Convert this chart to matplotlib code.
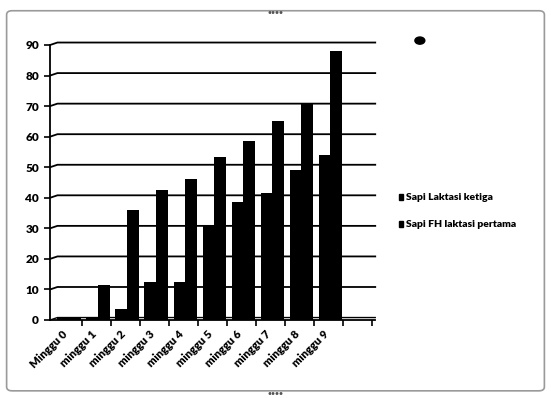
import matplotlib.pyplot as plt
import numpy as np
from matplotlib.patches import FancyBboxPatch, Circle

weeks = ["Minggu 0", "minggu 1", "minggu 2", "minggu 3", "minggu 4",
         "minggu 5", "minggu 6", "minggu 7", "minggu 8", "minggu 9"]
laktasi_ketiga = [1, 0.5, 3.5, 12.5, 12.5, 31, 38.5, 41.5, 49, 54]
fh_laktasi_pertama = [1, 11.5, 36, 42.5, 46, 53.5, 58.5, 65, 71, 88]
series_names = ["Sapi Laktasi ketiga", "Sapi FH laktasi pertama"]

plt.rcParams["font.family"] = ["Lato", "DejaVu Sans"]
plt.rcParams["font.weight"] = "bold"

fig = plt.figure(figsize=(5.51, 3.98), dpi=100)

# chart frame
frame = FancyBboxPatch((0.012, 0.018), 0.976, 0.955, boxstyle="round,pad=0,rounding_size=0.01",
                       transform=fig.transFigure, fill=False, ec="#9a9a9a", lw=1.2)
fig.patches.append(frame)
fig.text(0.5, 0.968, "\u2022\u2022\u2022\u2022", ha="center", va="center", fontsize=5, color="#555555")
fig.text(0.5, 0.012, "\u2022\u2022\u2022\u2022", ha="center", va="center", fontsize=5, color="#555555")
fig.patches.append(Circle((0.762, 0.898), 0.009, transform=fig.transFigure, color="black"))

ax = fig.add_axes([0.091, 0.196, 0.59, 0.691])
x = np.arange(len(weeks))
w = 0.4
ax.set_xlim(-0.6, 10.6)
ax.set_ylim(0, 90)

# gridlines with a small perspective kink at the wall
for yv in range(10, 100, 10):
    ax.plot([-0.6, -0.35, 10.6], [yv, yv + 0.8, yv + 0.8], color="black", lw=1.3,
            zorder=1, clip_on=False)
ax.plot([-0.6, -0.35, 10.6], [0, 0.8, 0.8], color="black", lw=1.0, zorder=1, clip_on=False)

ax.bar(x - w / 2 + 0.05, laktasi_ketiga, w, color="black", zorder=3, label=series_names[0])
ax.bar(x + w / 2 + 0.05, fh_laktasi_pertama, w, color="black", zorder=2, label=series_names[1])

for s in ["top", "right"]:
    ax.spines[s].set_visible(False)
ax.spines["left"].set_linewidth(1.3)
ax.spines["bottom"].set_linewidth(1.3)

ax.set_yticks(range(0, 100, 10))
ax.tick_params(axis="y", labelsize=8.5, length=4, width=1.2, pad=4)
ax.set_xticks(np.arange(0.5, 11, 1), minor=True)
ax.tick_params(axis="x", which="minor", length=4, width=1.2)
ax.set_xticks(x - 0.2)
ax.set_xticklabels(weeks, rotation=45, ha="right", rotation_mode="anchor", fontsize=8)
ax.tick_params(axis="x", which="major", length=0, pad=6)
for lbl in ax.get_yticklabels() + ax.get_xticklabels():
    lbl.set_fontweight("heavy")

# legend
for i, name in enumerate(series_names):
    yy = 0.505 - i * 0.068
    fig.patches.append(plt.Rectangle((0.725, yy - 0.007), 0.007, 0.014,
                                     transform=fig.transFigure, color="black"))
    fig.text(0.736, yy, name, ha="left", va="center", fontsize=7.5, fontweight="heavy")

fig.savefig("out.png", dpi=100)
